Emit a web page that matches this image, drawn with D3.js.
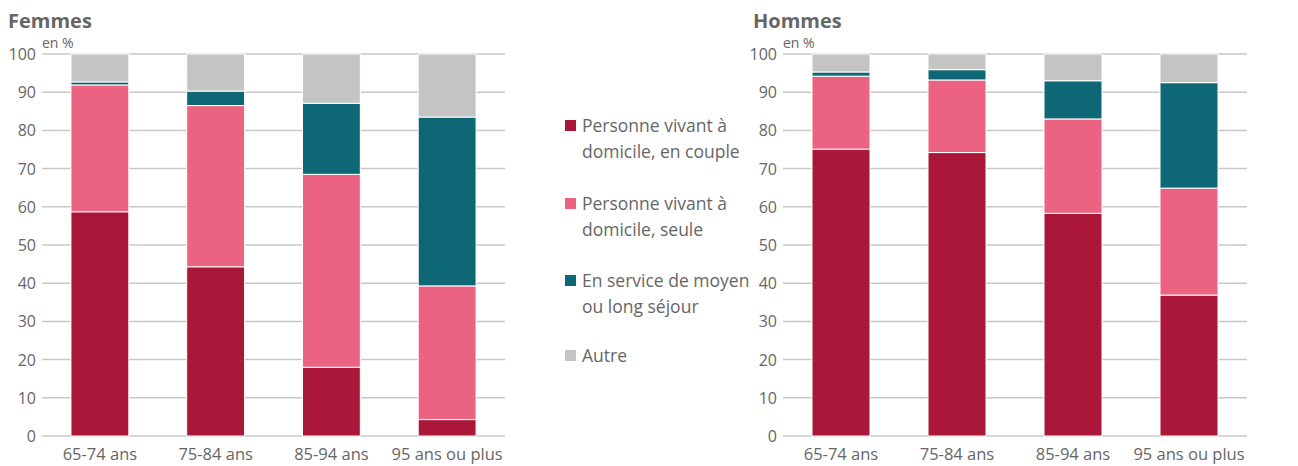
<!DOCTYPE html>
<html>
<head>
<meta charset="utf-8">
<script src="https://cdn.jsdelivr.net/npm/d3@7"></script>
<style>
  body { margin: 0; background: #fff; }
  svg text { font-family: "Open Sans", sans-serif; fill: #666; }
</style>
</head>
<body>
<svg id="chart" width="1298" height="466"></svg>
<script>
const categories = ['65-74 ans', '75-84 ans', '85-94 ans', '95 ans ou plus'];
const seriesNames = ['Personne vivant à domicile, en couple', 'Personne vivant à domicile, seule', 'En service de moyen ou long séjour', 'Autre'];
const legendLines = [['Personne vivant à', 'domicile, en couple'], ['Personne vivant à', 'domicile, seule'], ['En service de moyen', 'ou long séjour'], ['Autre']];
const colors = ['#ab1738', '#ec6281', '#0e6775', '#c4c4c4'];
const yTicks = [0, 10, 20, 30, 40, 50, 60, 70, 80, 90, 100];

// femmes
const femCouple = [58.7, 44.3, 18.0, 4.3];
const femSeule = [33.2, 42.2, 50.5, 35.0];
const femService = [0.8, 3.8, 18.6, 44.2];
const femAutre = [7.3, 9.7, 12.9, 16.5];
// hommes
const homCouple = [75.1, 74.2, 58.3, 36.9];
const homSeule = [19.1, 19.0, 24.7, 28.0];
const homService = [1.1, 2.7, 10.0, 27.6];
const homAutre = [4.7, 4.1, 7.0, 7.5];

const svg = d3.select('#chart');

function rows(a, b, c, d) {
  return categories.map((cat, i) => ({cat: cat, s0: a[i], s1: b[i], s2: c[i], s3: d[i]}));
}

function drawPanel(title, data, x0, x1, titleX) {
  const top = 54, bottom = 436;
  const x = d3.scaleBand().domain(categories).range([x0, x1]).paddingInner(0.5).paddingOuter(0.25);
  const y = d3.scaleLinear().domain([0, 100]).range([bottom, top]);
  const g = svg.append('g');

  g.append('text').attr('x', titleX).attr('y', 28).text(title)
    .style('font-size', '20px').style('font-weight', 'bold');
  g.append('text').attr('x', x0).attr('y', 48).text('en %').style('font-size', '14px');

  g.selectAll('line.grid').data(yTicks).enter().append('line')
    .attr('x1', x0).attr('x2', x1)
    .attr('y1', d => y(d)).attr('y2', d => y(d))
    .attr('stroke', '#c8c8c8').attr('stroke-width', 1.5);

  g.selectAll('text.tick').data(yTicks).enter().append('text')
    .attr('x', x0 - 6).attr('y', d => y(d) + 6)
    .attr('text-anchor', 'end').style('font-size', '16px').text(d => d);

  const stack = d3.stack().keys(['s0', 's1', 's2', 's3'])(data);
  stack.forEach((layer, k) => {
    g.selectAll(null).data(layer).enter().append('rect')
      .attr('x', d => x(d.data.cat))
      .attr('width', x.bandwidth())
      .attr('y', d => y(d[1]))
      .attr('height', d => y(d[0]) - y(d[1]))
      .attr('fill', colors[k])
      .attr('stroke', '#fff').attr('stroke-width', 1);
  });

  g.selectAll('text.cat').data(categories).enter().append('text')
    .attr('x', d => x(d) + x.bandwidth() / 2).attr('y', 460)
    .attr('text-anchor', 'middle').style('font-size', '16.5px').text(d => d);
}

drawPanel('Femmes', rows(femCouple, femSeule, femService, femAutre), 42, 505, 8);
drawPanel('Hommes', rows(homCouple, homSeule, homService, homAutre), 783, 1247, 753);

// legend
const legendY = [126, 204, 281, 356];
const lg = svg.append('g');
seriesNames.forEach((name, i) => {
  lg.append('rect').attr('x', 565).attr('y', legendY[i] - 6).attr('width', 11).attr('height', 11).attr('fill', colors[i]);
  legendLines[i].forEach((t, j) => {
    lg.append('text').attr('x', 582).attr('y', legendY[i] + 6 + j * 26).style('font-size', '17.5px').text(t);
  });
});
</script>
</body>
</html>
